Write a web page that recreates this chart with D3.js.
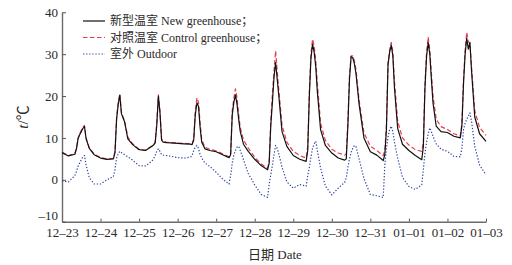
<!DOCTYPE html>
<html>
<head>
<meta charset="utf-8">
<script src="https://cdn.jsdelivr.net/npm/d3@7"></script>
<style>
  body { margin: 0; background: #fff; }
  svg { display: block; font-family: "Liberation Serif", "Times New Roman", "Noto Sans CJK SC", serif; }
</style>
</head>
<body>
<div id="chart"></div>
<script>
// day labels on the x axis (12-23 .. 01-03)
const dayLabels = ['12–23', '12–24', '12–25', '12–26', '12–27', '12–28', '12–29',
                   '12–30', '12–31', '01–01', '01–02', '01–03'];
const yTicks = [-10, 0, 10, 20, 30, 40];
const sampleHours = [0, 4, 8, 9, 10, 11, 12, 13, 14, 15, 17, 20];

// 新型温室 New greenhouse (one row per day, last value = 01-03 00:00)
const newGreenhouse = [
  6.5, 5.7, 6.1, 7.4, 9.8, 10.8, 11.5, 12.3, 12.7, 9.8, 7.5, 6.0,
  5.2, 4.9, 5.0, 6.5, 14.5, 18.0, 20.2, 15.8, 14.8, 13.8, 9.8, 8.4,
  7.2, 7.0, 8.0, 8.3, 8.8, 13.0, 20.0, 16.0, 9.5, 9.0, 8.9, 8.8,
  8.7, 8.6, 8.5, 8.4, 9.5, 15.5, 18.4, 17.5, 12.5, 9.0, 7.4, 7.0,
  6.7, 6.0, 5.3, 6.0, 15.5, 18.5, 20.3, 18.0, 14.5, 11.5, 8.5, 6.8,
  4.9, 3.4, 2.4, 4.0, 13.0, 18.5, 24.5, 28.0, 24.0, 20.0, 11.5, 8.0,
  5.8, 4.9, 4.4, 7.0, 20.0, 29.0, 32.4, 30.5, 27.0, 21.0, 12.0, 8.2,
  6.4, 5.2, 4.7, 5.0, 13.0, 24.0, 29.4, 29.2, 27.8, 25.5, 18.0, 10.0,
  6.7, 5.9, 4.6, 6.0, 12.0, 27.5, 30.5, 32.2, 29.6, 22.0, 12.3, 8.5,
  7.0, 5.8, 4.8, 8.0, 22.0, 29.5, 32.8, 30.0, 24.0, 18.4, 12.8, 11.5,
  11.3, 10.4, 10.0, 13.0, 23.0, 30.0, 33.8, 31.2, 32.8, 26.0, 15.0, 11.0,
  9.2
];

// 对照温室 Control greenhouse
const controlGreenhouse = [
  6.6, 5.8, 6.3, 7.6, 10.0, 11.0, 11.8, 12.6, 13.0, 10.0, 7.6, 6.2,
  5.3, 5.0, 5.1, 6.8, 15.0, 18.5, 20.5, 16.2, 15.0, 14.0, 10.2, 8.6,
  7.3, 7.1, 8.1, 8.4, 9.0, 13.5, 20.3, 16.5, 9.8, 9.2, 9.0, 8.9,
  8.8, 8.7, 8.6, 8.5, 9.8, 16.5, 19.6, 18.5, 13.5, 9.6, 7.8, 7.3,
  6.9, 6.2, 5.5, 6.3, 16.5, 19.5, 21.7, 19.5, 15.5, 12.5, 9.5, 7.6,
  5.4, 3.8, 2.8, 4.5, 14.0, 20.5, 26.0, 30.8, 26.0, 21.5, 13.0, 9.0,
  6.8, 5.8, 5.2, 8.0, 21.0, 30.0, 33.6, 32.0, 28.5, 23.0, 13.5, 9.4,
  7.3, 6.4, 5.9, 6.2, 14.0, 25.0, 29.6, 29.6, 28.5, 26.5, 19.0, 11.2,
  8.0, 7.0, 5.8, 7.0, 13.0, 28.0, 31.0, 32.8, 30.5, 23.5, 14.0, 10.0,
  8.3, 7.2, 6.8, 9.0, 23.0, 30.5, 34.1, 31.0, 25.5, 20.0, 14.5, 12.7,
  12.0, 11.0, 10.5, 13.5, 24.0, 31.0, 35.2, 33.0, 32.5, 27.0, 16.5, 12.5,
  10.6
];

// 室外 Outdoor
const outdoor = [
  -0.3, -0.5, 1.0, 2.0, 3.2, 4.0, 4.8, 5.5, 5.8, 3.5, 0.5, -1.0,
  -1.0, 0.0, 0.8, 2.5, 5.2, 6.2, 6.8, 6.5, 6.2, 6.0, 5.5, 4.7,
  3.4, 3.3, 4.5, 5.0, 5.8, 6.8, 7.4, 6.8, 6.0, 5.9, 5.8, 5.6,
  5.3, 5.2, 5.4, 5.8, 7.0, 7.8, 8.2, 7.5, 6.0, 5.2, 4.0, 3.2,
  1.8, 0.2, -1.0, 1.0, 4.0, 6.0, 7.0, 7.8, 8.0, 7.0, 4.8, 1.5,
  -1.2, -3.5, -4.2, -1.0, 1.2, 3.5, 6.0, 8.2, 7.5, 6.2, 3.0, -0.5,
  -2.0, -1.1, -1.5, 1.0, 3.0, 5.5, 7.5, 8.6, 9.2, 7.0, 2.8, -1.5,
  -3.6, -2.0, -0.6, 0.5, 3.0, 5.0, 6.5, 7.5, 8.2, 8.0, 5.0, 0.3,
  -3.5, -3.8, -4.2, 3.5, 7.5, 10.2, 12.0, 12.8, 11.5, 9.0, 5.2, 0.6,
  -1.6, -2.3, -1.2, 2.5, 6.4, 9.0, 11.0, 12.4, 11.5, 10.4, 8.6, 7.3,
  6.8, 5.6, 5.5, 7.5, 12.0, 13.5, 14.5, 15.2, 16.0, 14.0, 8.0, 3.5,
  1.2
];

const width = 512;
const height = 265;

// time of each sample in days since 12-23 00:00
const times = [];
for (let d = 0; d < dayLabels.length - 1; d++) {
  sampleHours.forEach(h => times.push(d + h / 24));
}
times.push(dayLabels.length - 1);

const xScale = d3.scaleLinear().domain([0, 11]).range([62, 486]);
const yScale = d3.scaleLinear().domain([-10, 40]).range([221.7, 12.3]);

const svg = d3.select('#chart')
  .append('svg')
  .attr('width', width)
  .attr('height', height);

const xAxis = d3.axisBottom(xScale)
  .tickValues(d3.range(dayLabels.length))
  .tickFormat(i => dayLabels[i])
  .tickSizeInner(-3)
  .tickSizeOuter(0)
  .tickPadding(6);

const yAxis = d3.axisLeft(yScale)
  .tickValues(yTicks)
  .tickFormat(v => v < 0 ? '–' + Math.abs(v) : v)
  .tickSizeInner(-4)
  .tickSizeOuter(0)
  .tickPadding(4);

const gx = svg.append('g')
  .attr('transform', `translate(0, ${yScale(-10)})`)
  .call(xAxis);
const gy = svg.append('g')
  .attr('transform', `translate(${xScale(0)}, 0)`)
  .call(yAxis);

[gx, gy].forEach(g => {
  g.select('.domain').attr('stroke', '#6b6b6b').attr('stroke-width', 1.4);
  g.selectAll('.tick line').attr('stroke', '#555').attr('stroke-width', 1);
  g.selectAll('.tick text')
    .attr('fill', '#2a2a2a')
    .style('font-size', '13px')
    .style('font-family', '"Liberation Serif", serif');
});
gx.select('.tick line').remove();
// lift the lowest y label a touch so it clears the first date label
gy.selectAll('.tick text').filter(d => d === -10).attr('dy', '-0.15em');

const series = [
  { name: '新型温室 New greenhouse；', values: newGreenhouse, color: '#111', dash: null, width: 1.2 },
  { name: '对照温室 Control greenhouse；', values: controlGreenhouse, color: '#e63c4c', dash: '4.5,2.5', width: 1.2 },
  { name: '室外 Outdoor', values: outdoor, color: '#2f43a0', dash: '1.3,1.8', width: 1.2 }
];

const line = d3.line()
  .x((d, i) => xScale(times[i]))
  .y(d => yScale(d));

// draw outdoor first, then control, then new greenhouse on top
[series[2], series[1], series[0]].forEach(s => {
  svg.append('path')
    .datum(s.values)
    .attr('d', line)
    .attr('fill', 'none')
    .attr('stroke', s.color)
    .attr('stroke-width', s.width)
    .attr('stroke-dasharray', s.dash)
    .attr('stroke-linejoin', 'round');
});

// legend
const legend = svg.append('g')
  .selectAll('g')
  .data(series).enter()
  .append('g')
  .attr('transform', (d, i) => `translate(83, ${21 + i * 16.5})`);

legend.append('line')
  .attr('x1', 0).attr('x2', 22)
  .attr('stroke', d => d.color)
  .attr('stroke-width', d => d.width)
  .attr('stroke-dasharray', d => d.dash);

legend.append('text')
  .attr('x', 27)
  .attr('dy', '0.35em')
  .style('font-size', '12px')
  .attr('fill', '#2a2a2a')
  .text(d => d.name);

// y axis title  t/℃
const yTitle = svg.append('text')
  .attr('transform', 'translate(28, 117) rotate(-90)')
  .attr('text-anchor', 'middle')
  .style('font-size', '15px')
  .attr('fill', '#2a2a2a');
yTitle.append('tspan').style('font-style', 'italic').text('t');
yTitle.append('tspan').text('/℃');

// x axis title
svg.append('text')
  .attr('x', 275)
  .attr('y', 259)
  .attr('text-anchor', 'middle')
  .style('font-size', '13px')
  .attr('fill', '#2a2a2a')
  .text('日期 Date');
</script>
</body>
</html>
